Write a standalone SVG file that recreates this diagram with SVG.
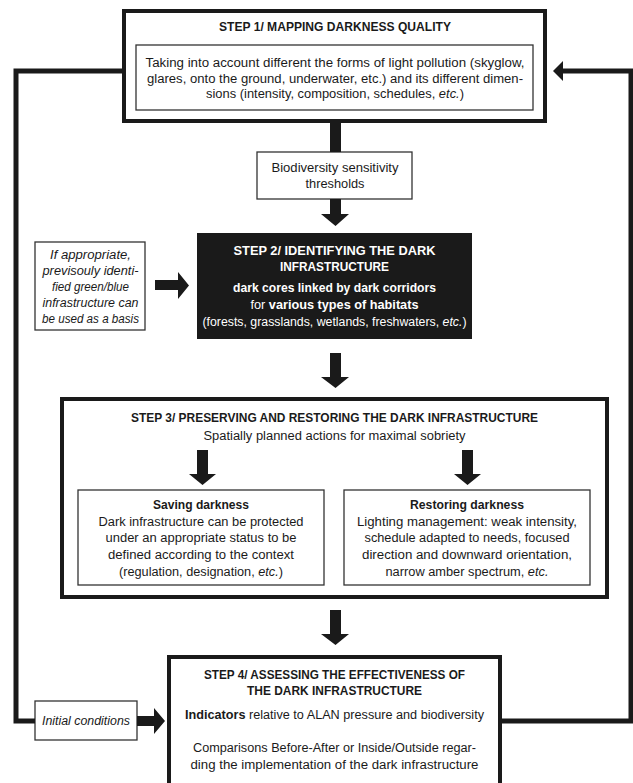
<svg xmlns="http://www.w3.org/2000/svg" width="633" height="783" viewBox="0 0 633 783">
<style>
text{font-family:"Liberation Sans",Arial,sans-serif;font-size:12.5px;fill:#1a1a1a;text-anchor:middle}
.b{font-weight:bold}
.i{font-style:italic}
.w{fill:#ffffff}
.thick{fill:#ffffff;stroke:#1a1a1a;stroke-width:4}
.thin{fill:#ffffff;stroke:#333333;stroke-width:1.3}
.line{fill:none;stroke:#1a1a1a;stroke-width:5;stroke-linejoin:miter}
.arr{fill:#1a1a1a}
</style>
<rect width="633" height="783" fill="#ffffff"/>
<g id="step1">
<rect class="thick" x="124" y="11" width="421" height="110"/>
<text class="b" x="335" y="31" textLength="232" lengthAdjust="spacingAndGlyphs">STEP 1/ MAPPING DARKNESS QUALITY</text>
<rect class="thin" x="136" y="45" width="397" height="65"/>
<text x="335" y="67" textLength="379" lengthAdjust="spacingAndGlyphs">Taking into account different the forms of light pollution (skyglow,</text>
<text x="335" y="83" textLength="376" lengthAdjust="spacingAndGlyphs">glares, onto the ground, underwater, etc.) and its different dimen-</text>
<text x="335" y="98" textLength="258" lengthAdjust="spacingAndGlyphs">sions (intensity, composition, schedules, <tspan class="i">etc.</tspan>)</text>
</g>
<g id="biodiversity">
<rect class="thin" x="257" y="152" width="155" height="47"/>
<text x="335" y="172" textLength="127" lengthAdjust="spacingAndGlyphs">Biodiversity sensitivity</text>
<text x="335" y="188" textLength="59" lengthAdjust="spacingAndGlyphs">thresholds</text>
</g>
<g id="greenblue">
<rect class="thin" x="35" y="242" width="110" height="88"/>
<text class="i" x="90.5" y="259" textLength="81" lengthAdjust="spacingAndGlyphs">If appropriate,</text>
<text class="i" x="90.5" y="275" textLength="96" lengthAdjust="spacingAndGlyphs">previsouly identi-</text>
<text class="i" x="90.5" y="291" textLength="77" lengthAdjust="spacingAndGlyphs">fied green/blue</text>
<text class="i" x="90.5" y="307" textLength="96" lengthAdjust="spacingAndGlyphs">infrastructure can</text>
<text class="i" x="90.5" y="323" textLength="97" lengthAdjust="spacingAndGlyphs">be used as a basis</text>
</g>
<g id="step2">
<rect x="197" y="233" width="275" height="106" fill="#1a1a1a"/>
<text class="b w" x="334.5" y="255" textLength="202" lengthAdjust="spacingAndGlyphs">STEP 2/ IDENTIFYING THE DARK</text>
<text class="b w" x="334.5" y="271" textLength="109" lengthAdjust="spacingAndGlyphs">INFRASTRUCTURE</text>
<text class="b w" x="334.5" y="292" textLength="203" lengthAdjust="spacingAndGlyphs">dark cores linked by dark corridors</text>
<text class="w" x="334.5" y="309" textLength="168" lengthAdjust="spacingAndGlyphs">for <tspan class="b">various types of habitats</tspan></text>
<text class="w" x="334.5" y="326" textLength="264" lengthAdjust="spacingAndGlyphs">(forests, grasslands, wetlands, freshwaters, <tspan class="i">etc.</tspan>)</text>
</g>
<g id="step3">
<rect class="thick" x="62" y="399" width="545" height="198"/>
<text class="b" x="334.5" y="422" textLength="407" lengthAdjust="spacingAndGlyphs">STEP 3/ PRESERVING AND RESTORING THE DARK INFRASTRUCTURE</text>
<text x="334.5" y="440" textLength="262" lengthAdjust="spacingAndGlyphs">Spatially planned actions for maximal sobriety</text>
</g>
<g id="saving">
<rect class="thin" x="78" y="490" width="246" height="95"/>
<text class="b" x="201" y="509" textLength="96" lengthAdjust="spacingAndGlyphs">Saving darkness</text>
<text x="201" y="526" textLength="205" lengthAdjust="spacingAndGlyphs">Dark infrastructure can be protected</text>
<text x="201" y="542" textLength="191" lengthAdjust="spacingAndGlyphs">under an appropriate status to be</text>
<text x="201" y="559" textLength="186" lengthAdjust="spacingAndGlyphs">defined according to the context</text>
<text x="201" y="576" textLength="164" lengthAdjust="spacingAndGlyphs">(regulation, designation, <tspan class="i">etc.</tspan>)</text>
</g>
<g id="restoring">
<rect class="thin" x="344" y="490" width="246" height="95"/>
<text class="b" x="467" y="509" textLength="114" lengthAdjust="spacingAndGlyphs">Restoring darkness</text>
<text x="467" y="526" textLength="220" lengthAdjust="spacingAndGlyphs">Lighting management: weak intensity,</text>
<text x="467" y="542" textLength="205" lengthAdjust="spacingAndGlyphs">schedule adapted to needs, focused</text>
<text x="467" y="559" textLength="210" lengthAdjust="spacingAndGlyphs">direction and downward orientation,</text>
<text x="467" y="576" textLength="163" lengthAdjust="spacingAndGlyphs">narrow amber spectrum, <tspan class="i">etc.</tspan></text>
</g>
<g id="initial">
<rect class="thin" x="35" y="701" width="102" height="39"/>
<text class="i" x="86" y="725" textLength="88" lengthAdjust="spacingAndGlyphs">Initial conditions</text>
</g>
<g id="step4">
<rect class="thick" x="169" y="657" width="331" height="140"/>
<text class="b" x="334.5" y="679" textLength="261" lengthAdjust="spacingAndGlyphs">STEP 4/ ASSESSING THE EFFECTIVENESS OF</text>
<text class="b" x="334.5" y="695" textLength="175" lengthAdjust="spacingAndGlyphs">THE DARK INFRASTRUCTURE</text>
<text x="334.5" y="719" textLength="299" lengthAdjust="spacingAndGlyphs"><tspan class="b">Indicators</tspan> relative to ALAN pressure and biodiversity</text>
<text x="334.5" y="752" textLength="283" lengthAdjust="spacingAndGlyphs">Comparisons Before-After or Inside/Outside regar-</text>
<text x="334.5" y="769" textLength="288" lengthAdjust="spacingAndGlyphs">ding the implementation of the dark infrastructure</text>
</g>
<g id="connectors">
<path class="line" d="M122,71 H16 V721 H35"/>
<path class="line" d="M502,721 H631 V71 H561"/>
<polygon class="arr" points="553,71 563,61 563,81"/>
<rect class="arr" x="330" y="123" width="11" height="29"/>
<path class="arr" d="M330,199 H341 V214 H349 L335.5,226 L321,214 H330 Z"/>
<path class="arr" d="M155,280 H178 V272 L189,285.5 L178,299 V290 H155 Z"/>
<path class="arr" d="M330,353 H341 V377 H349 L335.5,388 L321,377 H330 Z"/>
<path class="arr" d="M197,450 H208 V474 H216 L202.5,485 L189,474 H197 Z"/>
<path class="arr" d="M462,450 H473 V474 H481 L467.5,485 L454,474 H462 Z"/>
<path class="arr" d="M330,610 H341 V634 H349 L335.5,645 L321,634 H330 Z"/>
<path class="arr" d="M137,716 H154 V708 L165,721 L154,734 V726 H137 Z"/>
</g>
</svg>
